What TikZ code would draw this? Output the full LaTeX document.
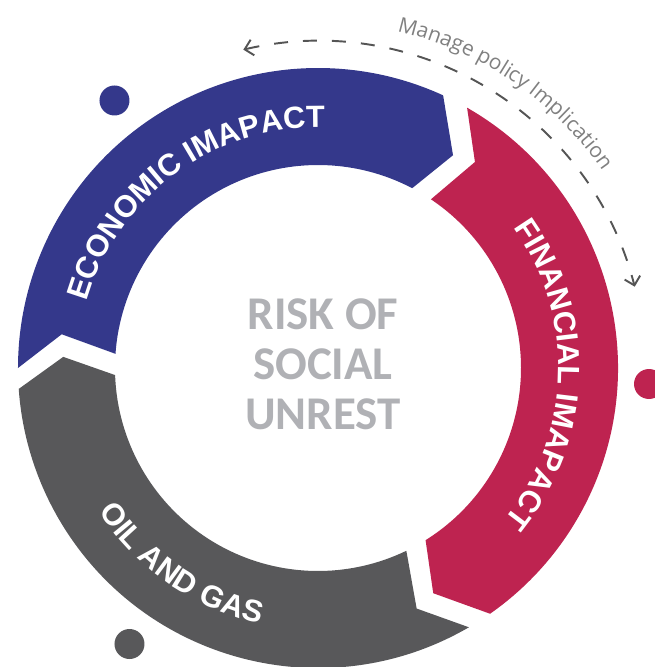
\documentclass[tikz,border=0pt]{standalone}
\usepackage{fontspec}
\setmainfont{Liberation Sans}
\newfontfamily\opensans{Open Sans}
\newfontfamily\carlito{Carlito}
\usetikzlibrary{decorations.text,arrows.meta}

\definecolor{econblue}{RGB}{52,56,139}
\definecolor{finred}{RGB}{190,35,80}
\definecolor{oilgray}{RGB}{88,88,90}
\definecolor{riskgray}{RGB}{176,177,181}
\definecolor{notegray}{RGB}{128,128,128}
\definecolor{dashgray}{RGB}{85,85,85}

\newcommand\ringfont{\fontsize{17.5}{20}\selectfont\bfseries}
\newcommand\notefont{\opensans\fontsize{11.9}{14}\selectfont}

\tikzset{
  ringlabel/.style={decorate, decoration={text along path, text align=center,
      text color=white, text={|\ringfont|#1}}},
  notelabel/.style={decorate, decoration={text along path, text align=center,
      text color=notegray, text={|\notefont|#1}}},
  ringdot/.style={fill=#1},
}

\begin{document}
\begin{tikzpicture}
            % centre of the ring at (0,0); outer r = 6, inner r = 4.06
            % chevron tip / notch sit half way, about r = 5.05 / 5.18
			\useasboundingbox (-6.36,-5.98) rectangle (6.72,7.36);
			\fill[econblue] (180:6) arc[start angle=180, end angle=65.35, radius=6]
                -- (57.6:5.04) -- (62.35:4.06)
                arc[start angle=62.35, end angle=176, radius=4.06]
                -- (172.5:5.17) -- cycle;
			\fill[finred] (60.2:6) arc[start angle=60.2, end angle=-55, radius=6]
                -- (-62.9:5.06) -- (-58:4.06)
                arc[start angle=-58, end angle=56.2, radius=4.06]
                -- (52.7:5.18) -- cycle;
			\fill[oilgray] (-59.8:6) arc[start angle=-59.8, end angle=-176, radius=6]
                -- (-182.5:5.1) -- (-178:4.06)
                arc[start angle=-178, end angle=-64.2, radius=4.06]
                -- (-67.7:5.2) -- cycle;
            % labels run clockwise on top and right, anticlockwise at the bottom
            \path[ringlabel={ECONOMIC IMAPACT}] (186.2:4.81) arc[start angle=186.2, end angle=66.2, radius=4.81];
            \path[ringlabel={FINANCIAL IMAPACT}] (58.15:4.81) arc[start angle=58.15, end angle=-61.85, radius=4.81];
            \path[ringlabel={OIL AND GAS}] (175.2:5.25) arc[start angle=175.2, end angle=295.2, radius=5.25];
			\node[riskgray, font=\carlito\bfseries\fontsize{26.7}{28.5}\selectfont, align=center] (risk) at (0.1,0.08) {RISK OF\\SOCIAL\\UNREST};
            % dashed return arrow, r = 6.54
            \coordinate (M1) at (103.2:6.54);
            \coordinate (M2) at (14.4:6.54);
            \draw[dashgray, line width=1.1pt, dash pattern=on 0.28cm off 0.3cm,
                {Straight Barb[length=0.16cm,width=0.32cm]}-{Straight Barb[length=0.16cm,width=0.32cm]}]
                (M1) arc[start angle=103.2, end angle=14.4, radius=6.54];
            \path[notelabel={Manage policy Implication}] (115.75:6.92) arc[start angle=115.75, end angle=-4.25, radius=6.92];
			\fill[ringdot=econblue] (-4.07,5.35) circle (0.3);
			\fill[ringdot=finred] (6.62,-0.32) circle (0.3);
			\fill[ringdot=oilgray] (-3.77,-5.52) circle (0.3);
		\end{tikzpicture}
\end{document}
